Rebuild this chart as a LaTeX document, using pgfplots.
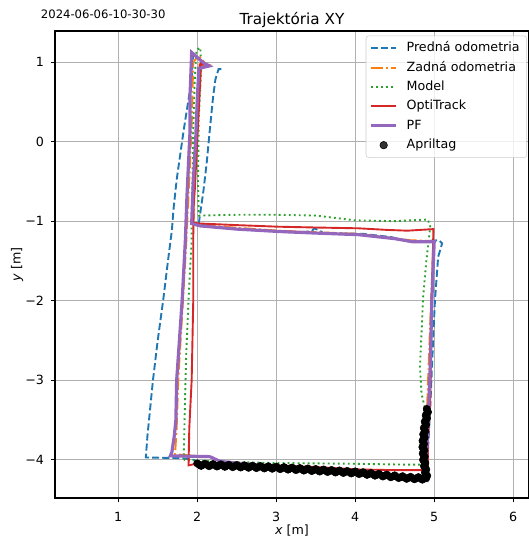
\documentclass[border=0pt]{standalone}
\usepackage{pgfplots}
\pgfplotsset{compat=1.18}
\usepackage{fontspec}
\setmainfont{DejaVu Sans}
\usetikzlibrary{calc}
\definecolor{c0}{HTML}{1F77B4}
\definecolor{c1}{HTML}{FF7F0E}
\definecolor{c2}{HTML}{2CA02C}
\definecolor{c3}{HTML}{D62728}
\definecolor{c4}{HTML}{9467BD}
\begin{document}
\begin{tikzpicture}
\begin{axis}[
  scale only axis, width=341.28bp, height=336.24bp,
  xmin=0.2, xmax=6.2, ymin=-4.48, ymax=1.39,
  xtick={1,2,3,4,5,6}, ytick={-4,-3,-2,-1,0,1},
  yticklabels={−4,−3,−2,−1,0,1},
  /pgf/number format/assume math mode=true,
  grid=major, grid style={color=black!31, line width=0.73pt},
  axis line style={line width=0.73pt},
  tick style={black, line width=0.73pt}, major tick length=3.2pt, tick align=outside, tick pos=left,
  ticklabel style={font=\fontsize{9.15}{11}\selectfont},
  xticklabel style={anchor=base, inner sep=0pt, yshift=-13.7bp},
  yticklabel style={anchor=east, inner sep=0pt, xshift=-4.5bp},
  xlabel={\textit{x} [m]}, ylabel={\textit{y} [m]},
  label style={font=\fontsize{9.15}{11}\selectfont},
  xlabel style={at={(axis description cs:0.5,0)}, anchor=base, inner sep=0pt, yshift=-26.3bp},
  ylabel style={at={(axis description cs:-0.08,0.5)}, anchor=center, inner sep=0pt},
  title={Trajektória XY},
  every axis title/.style={font=\fontsize{11}{13}\selectfont, at={(0.5,1)}, anchor=base, inner sep=0pt, yshift=4.7bp},
  legend style={at={(1,1)}, anchor=north east, xshift=-1.5bp, yshift=-3.3bp,
    draw=black!20, rounded corners=2pt, fill=white, fill opacity=0.8, text opacity=1,
    font=\fontsize{9.15}{11}\selectfont, inner xsep=2.6pt, inner ysep=2pt,
    nodes={inner sep=2.4pt, text height=7.0pt, text depth=2.2pt},
    /tikz/every odd column/.append style={column sep=4.0pt}},
  legend cell align=left,
  legend image code/.code={\draw[#1] (0bp,0bp) -- (18bp,0bp);},
]
% Apriltag (drawn first, under the lines)
\addplot[only marks, mark=*, mark size=2.6bp, black, mark options={fill=black, draw=black}, forget plot] coordinates {
(2.00,-4.045) (2.05,-4.077) (2.10,-4.049) (2.15,-4.081) (2.20,-4.053) (2.25,-4.085)
(2.30,-4.057) (2.35,-4.089) (2.40,-4.061) (2.45,-4.093) (2.50,-4.065) (2.55,-4.097)
(2.60,-4.069) (2.65,-4.101) (2.70,-4.073) (2.75,-4.105) (2.80,-4.077) (2.85,-4.109)
(2.90,-4.081) (2.95,-4.113) (3.00,-4.085) (3.05,-4.118) (3.10,-4.091) (3.15,-4.124)
(3.20,-4.097) (3.25,-4.130) (3.30,-4.103) (3.35,-4.136) (3.40,-4.109) (3.45,-4.142)
(3.50,-4.115) (3.55,-4.148) (3.60,-4.121) (3.65,-4.154) (3.70,-4.127) (3.75,-4.160)
(3.80,-4.133) (3.85,-4.166) (3.90,-4.139) (3.95,-4.172) (4.00,-4.145) (4.05,-4.180)
(4.10,-4.155) (4.15,-4.190) (4.20,-4.165) (4.25,-4.200) (4.30,-4.175) (4.35,-4.210)
(4.40,-4.185) (4.45,-4.220) (4.50,-4.195) (4.55,-4.230) (4.60,-4.205) (4.65,-4.240)
(4.70,-4.213) (4.75,-4.245) (4.80,-4.217) (4.85,-4.250) (4.90,-4.230)
(2.025,-4.061) (2.075,-4.063) (2.125,-4.065) (2.175,-4.067) (2.225,-4.069) (2.275,-4.071)
(2.325,-4.073) (2.375,-4.075) (2.425,-4.077) (2.475,-4.079) (2.525,-4.081) (2.575,-4.083)
(2.625,-4.085) (2.675,-4.087) (2.725,-4.089) (2.775,-4.091) (2.825,-4.093) (2.875,-4.095)
(2.925,-4.097) (2.975,-4.099) (3.025,-4.102) (3.075,-4.105) (3.125,-4.108) (3.175,-4.111)
(3.225,-4.114) (3.275,-4.117) (3.325,-4.120) (3.375,-4.123) (3.425,-4.126) (3.475,-4.129)
(3.525,-4.132) (3.575,-4.135) (3.625,-4.138) (3.675,-4.141) (3.725,-4.144) (3.775,-4.147)
(3.825,-4.150) (3.875,-4.153) (3.925,-4.156) (3.975,-4.159) (4.025,-4.163) (4.075,-4.168)
(4.125,-4.173) (4.175,-4.178) (4.225,-4.183) (4.275,-4.188) (4.325,-4.193) (4.375,-4.198)
(4.425,-4.203) (4.475,-4.208) (4.525,-4.213) (4.575,-4.218) (4.625,-4.223) (4.675,-4.227)
(4.725,-4.229) (4.775,-4.231) (4.825,-4.233) (4.875,-4.235)
(4.912,-4.20) (4.882,-4.16) (4.900,-4.12) (4.870,-4.08) (4.888,-4.04) (4.858,-4.00)
(4.880,-3.96) (4.854,-3.92) (4.876,-3.88) (4.850,-3.84) (4.872,-3.80) (4.852,-3.76)
(4.880,-3.72) (4.860,-3.68) (4.888,-3.64) (4.868,-3.60) (4.898,-3.56) (4.880,-3.52)
(4.910,-3.48) (4.892,-3.44) (4.922,-3.40) (4.905,-3.36)
(4.900,-4.22) (4.897,-4.18) (4.891,-4.14) (4.885,-4.10) (4.879,-4.06) (4.873,-4.02)
(4.869,-3.98) (4.867,-3.94) (4.865,-3.90) (4.863,-3.86) (4.861,-3.82) (4.862,-3.78)
(4.866,-3.74) (4.870,-3.70) (4.874,-3.66) (4.878,-3.62) (4.883,-3.58) (4.889,-3.54)
(4.895,-3.50) (4.901,-3.46) (4.907,-3.42) (4.913,-3.38)
};
% Predna odometria
\addplot[c0, line width=1.37pt, dash pattern=on 5.1pt off 2.2pt] coordinates {
(1.95,1.12) (1.93,0.78) (1.83,0.15) (1.74,-0.48) (1.70,-0.85) (1.68,-1.11) (1.63,-1.50)
(1.57,-1.99) (1.50,-2.50) (1.44,-3.00) (1.40,-3.40) (1.37,-3.70) (1.35,-3.97)
(1.82,-3.98) (1.95,-4.00) (2.05,-4.04) (3.00,-4.09) (4.00,-4.15) (4.60,-4.20) (4.88,-4.22)
(4.92,-3.90) (4.95,-3.34) (4.99,-2.41) (5.01,-1.99) (5.05,-1.45) (5.10,-1.28) (5.06,-1.24)
(4.90,-1.25) (4.73,-1.26) (4.45,-1.20) (4.10,-1.16) (3.60,-1.15) (3.53,-1.11) (3.48,-1.09)
(3.45,-1.13) (3.20,-1.14) (2.80,-1.12) (2.50,-1.10) (2.20,-1.07) (2.02,-1.03)
(2.08,-0.61) (2.12,-0.27) (2.16,0.15) (2.20,0.55) (2.23,0.78) (2.27,0.91) (2.31,0.91) (2.32,0.88)
};
\addlegendentry{Predná odometria}
% Zadna odometria
\addplot[c1, line width=1.37pt, dash pattern=on 8.8pt off 2.2pt on 1.37pt off 2.2pt] coordinates {
(2.00,-4.03) (2.50,-4.06) (3.00,-4.10) (3.50,-4.13) (4.00,-4.17) (4.50,-4.22) (4.88,-4.25)
(4.88,-4.00) (4.90,-3.60) (4.93,-2.80) (4.96,-2.00) (4.99,-1.25) (4.70,-1.24) (4.04,-1.16)
(3.03,-1.12) (2.04,-1.05) (1.95,-1.03) (1.97,-0.50) (2.00,0.30) (2.03,0.95) (2.12,0.96)
(2.02,1.08) (1.95,1.00) (1.93,0.20) (1.89,-0.70) (1.86,-1.30) (1.82,-2.00) (1.76,-3.00)
(1.74,-3.60) (1.72,-3.93) (1.98,-3.95)
};
\addlegendentry{Zadná odometria}
% Model
\addplot[c2, line width=1.37pt, dash pattern=on 1.37pt off 2.26pt] coordinates {
(2.00,-4.01) (2.50,-4.03) (3.00,-4.04) (3.50,-4.045) (4.00,-4.05) (4.60,-4.06) (4.82,-4.06)
(4.86,-4.00) (4.87,-3.60) (4.89,-3.38) (4.84,-3.17) (4.82,-2.83) (4.84,-2.40) (4.86,-1.95)
(4.90,-1.50) (4.95,-1.07) (4.92,-0.98) (4.50,-1.00) (4.00,-0.99) (3.50,-0.93) (3.00,-0.92)
(2.50,-0.92) (2.02,-0.93) (2.01,-0.50) (2.02,0.30) (2.05,0.90) (2.04,1.18) (1.99,1.15)
(1.97,0.80) (1.95,0.15) (1.94,-0.50) (1.93,-1.00) (1.93,-1.24) (1.89,-1.99) (1.86,-2.70)
(1.85,-3.09) (1.84,-3.50) (1.83,-3.95) (1.84,-4.00) (2.00,-4.01)
};
\addlegendentry{Model}
% OptiTrack
\addplot[c3, line width=1.37pt] coordinates {
(2.03,-4.04) (2.50,-4.05) (3.00,-4.07) (3.50,-4.09) (4.00,-4.12) (4.50,-4.13) (4.92,-4.13)
(4.92,-3.80) (4.95,-3.25) (4.97,-1.99) (4.99,-1.10) (4.66,-1.12) (4.40,-1.11) (4.04,-1.09)
(3.50,-1.08) (3.03,-1.07) (2.50,-1.05) (2.04,-1.03) (1.93,-1.02) (1.97,-0.60) (2.00,0.00)
(2.03,0.60) (2.05,1.00) (2.13,0.97) (2.03,0.97) (2.01,0.50) (1.99,0.00) (1.96,-0.60)
(1.95,-1.20) (1.95,-2.00) (1.93,-3.00) (1.90,-3.60) (1.89,-4.07) (2.03,-4.04)
};
\addlegendentry{OptiTrack}
% PF
\addplot[c4, line width=2.3pt] coordinates {
(2.16,-3.96) (2.29,-4.02) (2.60,-4.05) (3.00,-4.09) (3.50,-4.12) (4.00,-4.16) (4.30,-4.19)
(4.57,-4.24) (4.75,-4.25) (4.91,-4.26) (4.90,-4.00) (4.92,-3.60) (4.95,-2.83) (4.97,-2.00)
(5.00,-1.26) (4.95,-1.26) (4.73,-1.26) (4.50,-1.22) (4.04,-1.17) (3.50,-1.15) (3.03,-1.13)
(2.50,-1.10) (2.04,-1.06) (1.93,-1.03) (1.95,-0.50) (1.98,0.00) (2.00,0.50) (2.02,0.92)
(2.15,0.95) (2.08,0.99) (1.93,1.12) (1.91,0.60) (1.91,0.15) (1.87,-0.69) (1.85,-1.24)
(1.81,-1.99) (1.74,-3.00) (1.73,-3.50) (1.71,-3.70) (1.68,-3.90) (1.66,-3.95) (2.16,-3.96)
};
\addlegendentry{PF}
\addlegendimage{legend image code/.code={\fill[black] (9bp,0bp) circle (2.7bp);}}
\addlegendentry{Apriltag}
\end{axis}
\node[anchor=base west, inner sep=0pt, font=\fontsize{8.4}{10}\selectfont] at ($(current axis.north west)+(-10.3bp,8.8bp)$) {2024-06-06-10-30-30};
\pgfresetboundingbox
\path[use as bounding box] ($(current axis.south west)+(-39.6bp,-27.36bp)$) rectangle ($(current axis.north east)+(0bp,22.32bp)$);
\end{tikzpicture}
\end{document}
